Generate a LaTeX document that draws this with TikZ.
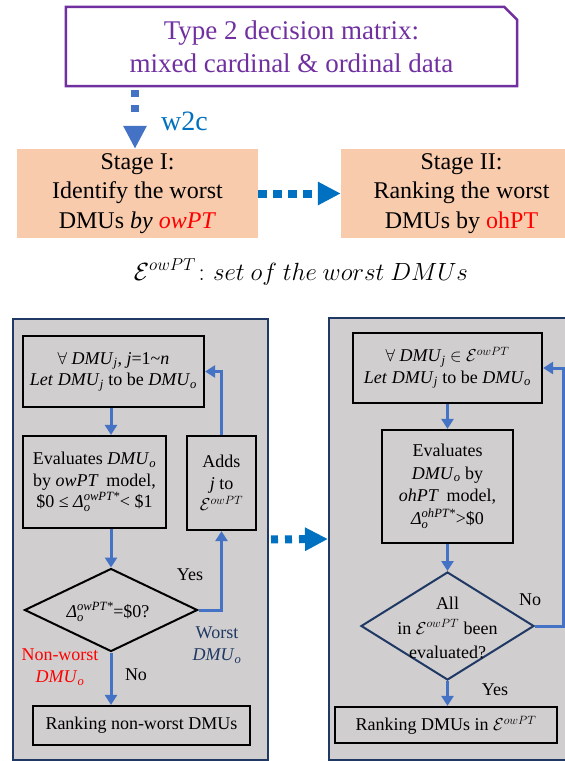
\documentclass[tikz,border=0pt]{standalone}
\usepackage{amsmath}
\usepackage{fontspec}
\setmainfont{Liberation Serif}
\usetikzlibrary{arrows.meta,shapes.geometric}
\definecolor{ttl}{HTML}{7030A0}
\definecolor{flowblue}{HTML}{4472C4}
\definecolor{dotblue}{HTML}{0070C0}
\definecolor{stagefill}{HTML}{F8CBAD}
\definecolor{panelfill}{HTML}{D0CECE}
\definecolor{navy}{HTML}{1F3864}
\definecolor{redtxt}{HTML}{FF0000}
\newcommand{\dmu}[1]{\textit{DMU}\textsubscript{\textit{#1}}}
\newcommand{\dlt}[1]{$\textit{Δ}_{\textit{o}}^{\textit{#1}}$}
\newcommand{\Eow}{$\mathcal{E}^{owPT}$}
\begin{document}
\begin{tikzpicture}[x=1pt,y=-1pt,
  ttlbox/.style={inner sep=0pt, align=center, text=ttl, font=\fontsize{27}{33}\selectfont},
  stagebox/.style={fill=stagefill, inner sep=0pt, align=center, font=\fontsize{24}{29.5}\selectfont},
  panel/.style={draw=navy, line width=2pt, fill=panelfill, inner sep=0pt},
  fbox/.style={draw=black, line width=2.2pt, inner sep=0pt, align=center, font=\fontsize{18}{21.5}\selectfont},
  dbox/.style={diamond, draw=#1, line width=2pt, inner sep=0pt},
  lbl/.style={inner sep=0pt, align=center, font=\fontsize{18}{22}\selectfont},
  flow/.style={draw=flowblue, line width=3pt, -{Triangle[width=12pt,length=10pt]}},
  bigdot/.style={line width=8pt, -{Triangle[width=22pt,length=23pt]}}
]
\useasboundingbox (0,0) rectangle (565,761);
\clip (0,0) rectangle (565,761);

% title
\node[ttlbox, minimum width=451pt, minimum height=79pt] (T) at (291.5,46.5)
  {Type 2 decision matrix:\\mixed cardinal \& ordinal data};
\draw[ttl, line width=2.5pt] (T.south west) -- (T.north west) -- ([xshift=-13pt]T.north east)
  -- ([yshift=-13pt]T.north east) -- (T.south east) -- cycle;

% stages
\node[stagebox, minimum width=241pt, minimum height=89pt] (S1) at (137.5,193.5)
  {Stage I:\\Identify the worst\\DMUs \textit{by} \textcolor{redtxt}{\textit{owPT}}};
\node[stagebox, minimum width=241pt, minimum height=89pt] (S2) at (461.5,193.5)
  {Stage II:\\Ranking the worst\\DMUs by \textcolor{redtxt}{ohPT}};

\draw[bigdot, flowblue, dash pattern=on 7pt off 8pt on 7pt off 30pt, dash phase=48pt]
  (T.south -| 135,0) -- (S1.north -| 135,0);
\node[anchor=base west, inner sep=0pt, text=dotblue, font=\fontsize{28}{30}\selectfont] (w2c) at (161,130) {w2c};
\draw[bigdot, dotblue, dash pattern=on 9pt off 6pt] (S1.east) -- (S2.west);

\node[anchor=base, inner sep=0pt, font=\fontsize{23.5}{26}\selectfont] (E) at (301,280)
  {$\mathcal{E}^{owPT}\colon set\ of\ the\ worst\ DMUs$};

% panels
\node[panel, minimum width=255pt, minimum height=441pt] (Lp) at (140.5,539.5) {};
\node[panel, minimum width=255pt, minimum height=442pt] (Rp) at (456.5,539) {};
\draw[bigdot, dotblue, dash pattern=on 7pt off 7pt, dash phase=12pt] (Lp.east) -- (Rp.west);

% left panel flow
\node[fbox, minimum width=181pt, minimum height=71pt] (A) at (113.5,371.5)
  {$\forall$ \dmu{j}, \textit{j}=1\textasciitilde\textit{n}\\\textit{Let} \dmu{j} to be \dmu{o}};
\node[fbox, minimum width=143pt, minimum height=92pt] (B) at (94.5,482)
  {Evaluates \dmu{o}\\by \textit{owPT}\, model,\\\$0 ≤ \dlt{owPT*}< \$1};
\node[fbox, minimum width=69pt, minimum height=94pt] (C) at (221.5,483)
  {Adds\\\textit{j} to\\\Eow};
\node[dbox=black, minimum width=173pt, minimum height=83pt] (D1) at (111,610) {};
\node[lbl] (D1t) at (108,612) {\dlt{owPT*}=\$0?};
\node[fbox, minimum width=217pt, minimum height=39pt] (R1) at (141.5,725.5) {Ranking non-worst DMUs};

\draw[flow] (A.south -| D1.north) -- (B.north -| D1.north);
\draw[flow] (B.south -| D1.north) -- (D1.north);
\draw[flow] (D1.south) -- (R1.north -| D1.south);
\draw[flow] (D1.east) -| (C.south);
\draw[flow] (C.north) |- (A.east);

\node[lbl] (yes1) at (190,575) {Yes};
\node[lbl, text=navy] (worst) at (217,645) {Worst\\\dmu{o}};
\node[lbl, text=redtxt] (nonworst) at (60,667) {Non-worst\\\dmu{o}};
\node[lbl] (no1) at (136,675) {No};

% right panel flow
\node[fbox, minimum width=189pt, minimum height=70pt] (A2) at (447.5,368)
  {$\forall$ \dmu{j} $\in$ \Eow\\\textit{Let} \dmu{j} to be \dmu{o}};
\node[fbox, minimum width=131pt, minimum height=113pt, font=\fontsize{18}{22.5}\selectfont] (B2) at (447.5,486.5)
  {Evaluates\\\dmu{o} by\\\textit{ohPT}\, model,\\\dlt{ohPT*}>\$0};
\node[dbox=navy, minimum width=173pt, minimum height=108pt] (D2) at (447.5,626) {};
\node[lbl, font=\fontsize{18}{24.5}\selectfont] (D2t) at (447.5,628) {All\\in \Eow{} been\\evaluated?};
\node[fbox, minimum width=222pt, minimum height=36pt] (R2) at (446,725) {Ranking DMUs in \Eow};
\coordinate (fb) at (563,626);

\draw[flow] (A2.south) -- (B2.north);
\draw[flow] (B2.south) -- (D2.north);
\draw[flow] (D2.south) -- (R2.north -| D2.south);
\draw[flow] (D2.east) -- (fb) |- (A2.east);

\node[lbl] (no2) at (530,600) {No};
\node[lbl] (yes2) at (495,690) {Yes};
\end{tikzpicture}
\end{document}
